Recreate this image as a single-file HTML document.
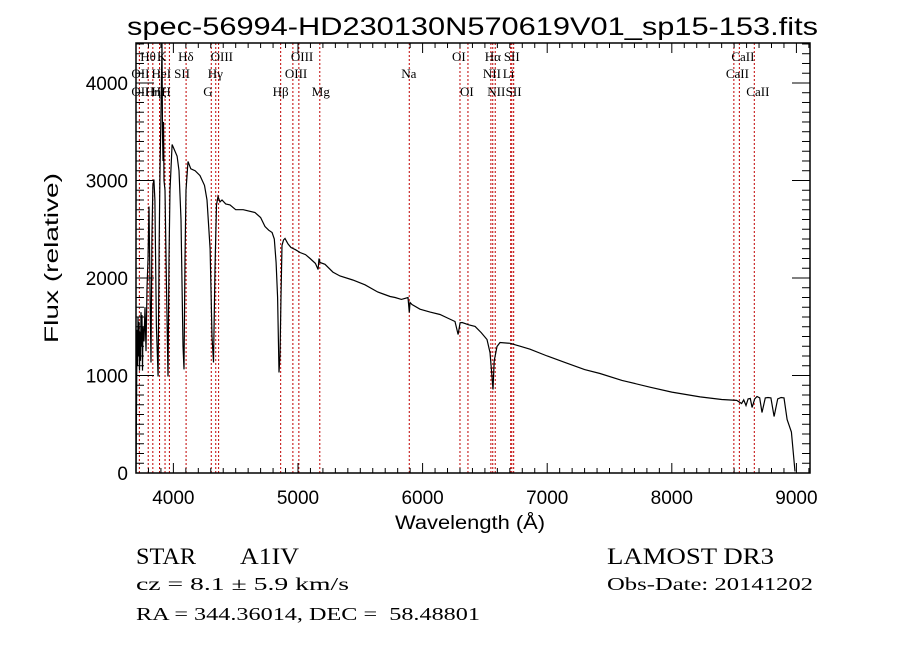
<!DOCTYPE html>
<html><head><meta charset="utf-8"><style>
html,body{margin:0;padding:0;background:#fff;}
svg{display:block;}
text{font-family:"Liberation Serif",serif;fill:#000;white-space:pre;}
.sans{font-family:"Liberation Sans",sans-serif;}
</style></head><body>
<svg id="chart" width="900" height="649" viewBox="0 0 900 649" xmlns="http://www.w3.org/2000/svg" xml:space="preserve">
<rect x="0" y="0" width="900" height="649" fill="#fff"/>
<text class="sans" x="127" y="35" font-size="25" textLength="691" lengthAdjust="spacingAndGlyphs">spec-56994-HD230130N570619V01_sp15-153.fits</text>
<g id="lines"></g>
<g id="labels"></g>
<path id="spec" fill="none" stroke="#000" stroke-width="1.2"/>
<rect x="136" y="43" width="674" height="430" fill="none" stroke="#000" stroke-width="1.5"/>
<g id="ticks"></g>
<text class="sans" x="470" y="529" font-size="19" text-anchor="middle" textLength="150" lengthAdjust="spacingAndGlyphs">Wavelength (Å)</text>
<text class="sans" x="0" y="0" font-size="19" text-anchor="middle" transform="translate(58,258) rotate(-90)" textLength="170" lengthAdjust="spacingAndGlyphs">Flux (relative)</text>
<text x="136" y="564" font-size="23" textLength="60" lengthAdjust="spacingAndGlyphs">STAR</text>
<text x="240" y="564" font-size="23" textLength="59" lengthAdjust="spacingAndGlyphs">A1IV</text>
<text x="136" y="590" font-size="18" textLength="213" lengthAdjust="spacingAndGlyphs">cz = 8.1 ± 5.9 km/s</text>
<text x="136" y="620" font-size="18" textLength="344" lengthAdjust="spacingAndGlyphs">RA = 344.36014, DEC =  58.48801</text>
<text x="607" y="564" font-size="23" textLength="167" lengthAdjust="spacingAndGlyphs">LAMOST DR3</text>
<text x="607" y="590" font-size="18" textLength="206" lengthAdjust="spacingAndGlyphs">Obs-Date: 20141202</text>
</svg>
<script>
const wave=[3700,3704,3708,3712,3716,3720,3724,3728,3732,3736,3740,3744,3748,3752,3756,3764,3772,3780,3788,3796,3804,3812,3820,3828,3836,3844,3852,3864,3877,3885,3893,3901,3909,3913,3917,3921,3925,3933,3945,3957,3965,3973,3990,4013,4030,4045,4061,4077,4085,4093,4101,4117,4140,4174,4214,4250,4270,4295,4310,4322,4334,4346,4358,4374,4390,4420,4454,4500,4560,4655,4700,4735,4765,4792,4810,4824,4836,4848,4856,4864,4872,4884,4896,4920,4944,4980,5016,5060,5097,5140,5161,5169,5177,5217,5280,5337,5440,5538,5640,5739,5779,5830,5883,5893,5899,5915,5979,6060,6140,6200,6260,6285,6301,6317,6370,6421,6470,6517,6541,6553,6565,6575,6597,6621,6702,6782,6862,7000,7150,7300,7424,7600,7825,8000,8227,8400,8521,8560,8577,8595,8612,8630,8644,8665,8684,8705,8724,8750,8772,8795,8821,8850,8877,8900,8925,8960,8989,9005,9013];
const flux=[15,651,1470,1100,1600,1200,1550,1050,1450,1150,1650,1300,1620,1050,1500,1350,1700,1250,1900,2190,2733,1900,1133,2400,2950,3010,2800,1500,990,2300,3100,3700,4415,3500,3200,3600,3000,2900,1900,990,2200,2900,3369,3300,3250,3100,2600,1300,1062,2200,2900,3195,3120,3100,3050,2950,2800,2300,1400,1133,2100,2750,2836,2780,2800,2760,2750,2700,2700,2672,2620,2528,2490,2467,2400,2159,1800,1031,1200,1810,2333,2390,2405,2350,2313,2290,2261,2240,2200,2150,2087,2200,2159,2140,2060,2020,1979,1930,1856,1810,1800,1780,1800,1646,1750,1728,1680,1650,1626,1590,1554,1420,1540,1544,1520,1503,1440,1369,1236,1050,856,1150,1297,1338,1330,1300,1270,1200,1130,1060,1020,950,880,830,780,754,745,713,750,692,760,764,672,760,785,770,620,770,774,770,579,760,774,770,549,420,15];
const lineW=[3727,3798,3835,3889,3933,3968,4102,4304,4340,4363,4861,4959,5007,5175,5893,6300,6364,6548,6563,6583,6707,6716,6731,8498,8542,8662];
const labelText=["Hθ","K","Hδ","OIII","OIII","OII","HeI","SII","Hγ","OIII","OII","Hζ","Hη","H","G","Hβ","Mg","OI","Hα","SII","CaII","Na","NII","Li","CaII","OI","NII","SII","CaII"];
const labelWave=[3798,3933,4102,4363,5007,3727,3889,4070,4340,4959,3727,3889,3835,3968,4304,4861,5175,6300,6563,6716,8542,5893,6548,6707,8498,6364,6583,6731,8662];
const labelRow=[1,1,1,1,1,2,2,2,2,2,3,3,3,3,3,3,3,1,1,1,1,2,2,2,2,3,3,3,3];
const xTicks=[4000,5000,6000,7000,8000,9000];
const yTicks=[0,1000,2000,3000,4000];
const X0=136,X1=810,Y0=43,Y1=473;
const WMIN=3700,WMAX=9109,FMIN=0,FMAX=4410;
function xs(w){return X0+(w-WMIN)/(WMAX-WMIN)*(X1-X0);}
function ys(f){return Y1-(f-FMIN)/(FMAX-FMIN)*(Y1-Y0);}
const NS="http://www.w3.org/2000/svg";
function mk(tag,attrs,parent){const e=document.createElementNS(NS,tag);for(const k in attrs)e.setAttribute(k,attrs[k]);parent.appendChild(e);return e;}
let d="";
for(let i=0;i<wave.length;i++){d+=(i?"L":"M")+xs(wave[i]).toFixed(1)+","+ys(Math.max(FMIN,Math.min(FMAX,flux[i]))).toFixed(1);}
document.getElementById('spec').setAttribute('d',d);
const gl=document.getElementById('lines');
lineW.forEach(w=>{
  const l=mk('line',{x1:xs(w),x2:xs(w),y1:Y0,y2:Y1,stroke:'#c00000','stroke-width':1,'stroke-dasharray':'2,2'},gl);
  
  
});
const glb=document.getElementById('labels');
const rowY=[0,61,78,96];
labelText.forEach((t,i)=>{
  const e=mk('text',{x:xs(labelWave[i])-8,y:rowY[labelRow[i]],'font-size':13},glb);
  e.textContent=t;
  
  
});
const gt=document.getElementById('ticks');
for(let w=3800;w<=9100;w+=100){
  const maj=(w%1000===0),L=maj?10:5;
  mk('line',{x1:xs(w),x2:xs(w),y1:Y1,y2:Y1-L,stroke:'#000','stroke-width':1},gt);
  mk('line',{x1:xs(w),x2:xs(w),y1:Y0,y2:Y0+L,stroke:'#000','stroke-width':1},gt);
}
for(let f=100;f<=4400;f+=100){
  const maj=(f%1000===0),L=maj?18:8;
  mk('line',{x1:X0,x2:X0+L,y1:ys(f),y2:ys(f),stroke:'#000','stroke-width':1},gt);
  mk('line',{x1:X1,x2:X1-L,y1:ys(f),y2:ys(f),stroke:'#000','stroke-width':1},gt);
}
xTicks.forEach(w=>{
  const e=mk('text',{x:xs(w),y:504,'font-size':19,'text-anchor':'middle',class:'sans'},gt);
  e.textContent=w;
  
  
});
yTicks.forEach(f=>{
  const e=mk('text',{x:128,y:ys(f)+7,'font-size':19,'text-anchor':'end',class:'sans'},gt);
  e.textContent=f;
  
  
});
</script>
</body></html>
